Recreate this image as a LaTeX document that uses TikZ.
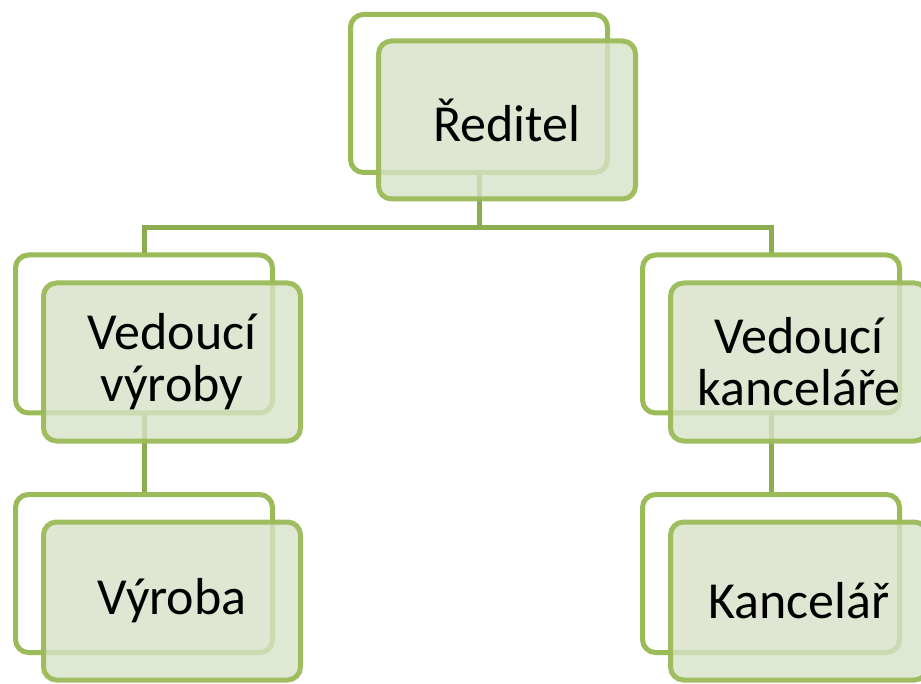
\documentclass[tikz,border=0pt]{standalone}
\usepackage{fontspec}
\setmainfont{Carlito}
\usetikzlibrary{backgrounds}
\definecolor{boxline}{RGB}{155,187,89}
\definecolor{conline}{RGB}{140,172,80}
\definecolor{boxfill}{RGB}{215,226,200}
\tikzset{
  backbox/.style={draw=boxline, line width=5pt, fill=white, rounded corners=13pt,
    minimum width=257pt, minimum height=158pt, inner sep=0pt},
  frontbox/.style={draw=boxline, draw opacity=0.95, line width=5pt, fill=boxfill, fill opacity=0.8,
    text opacity=1, rounded corners=13pt,
    minimum width=257pt, minimum height=158pt, inner sep=0pt, align=center,
    font=\fontsize{52}{52}\selectfont},
  conn/.style={draw=conline, line width=5pt}
}
\begin{document}
\begin{tikzpicture}[x=1pt,y=-1pt]
\useasboundingbox (0,0) rectangle (921,684);
\clip (0,0) rectangle (921,684);
\coordinate (j) at (479,228);
\node[backbox] (rB) at (479,93.5) {};
\node[backbox] (vB) at (144,334) {};
\node[backbox] (kB) at (771,334) {};
\node[backbox] (vyB) at (144,573.5) {};
\node[backbox] (kaB) at (771,573.5) {};
\begin{scope}[on background layer]
  \draw[conn] (rB.center) -- (j);
  \draw[conn] (j) -| (vB.center);
  \draw[conn] (j) -| (kB.center);
  \draw[conn] (vB.center) -- (vyB.center);
  \draw[conn] (kB.center) -- (kaB.center);
\end{scope}
\node[frontbox] (rF) at (507,120) {Ředitel};
\node[frontbox] (vF) at (172,362) {Vedoucí\\výroby};
\node[frontbox] (kF) at (799,362) {Vedoucí\\kanceláře};
\node[frontbox] (vyF) at (172,601) {Výroba};
\node[frontbox] (kaF) at (799,601) {Kancelář};
\end{tikzpicture}
\end{document}
